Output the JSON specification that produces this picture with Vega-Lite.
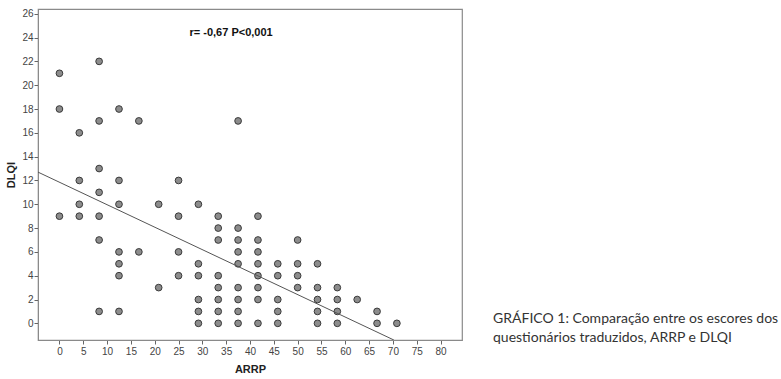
{
  "$schema": "https://vega.github.io/schema/vega-lite/v6.json",
  "width": 424,
  "height": 331,
  "autosize": {"type": "none"},
  "padding": {"left": 38, "top": 9, "right": 319, "bottom": 39},
  "background": "white",
  "config": {
    "view": {"stroke": "#8a8a8a", "strokeWidth": 1.2},
    "axis": {
      "grid": false,
      "labelFont": "Liberation Sans",
      "labelFontSize": 10,
      "labelColor": "#444444",
      "tickColor": "#666666",
      "tickSize": 4,
      "domainColor": "#8a8a8a",
      "titleFont": "Liberation Sans",
      "titleFontWeight": "bold",
      "titleFontSize": 11,
      "titleColor": "#222222"
    }
  },
  "title": {
    "text": ["GRÁFICO 1: Comparação entre os escores dos", "questionários traduzidos, ARRP e DLQI"],
    "orient": "bottom",
    "anchor": "end",
    "frame": "group",
    "align": "left",
    "baseline": "top",
    "dx": 31,
    "dy": -66,
    "font": "Lato",
    "fontSize": 14,
    "fontWeight": "normal",
    "color": "#333333",
    "lineHeight": 19
  },
  "layer": [
    {
      "data": {
        "values": [
          {"ARRP": 0, "DLQI": 21}, {"ARRP": 0, "DLQI": 18}, {"ARRP": 0, "DLQI": 9},
          {"ARRP": 4.17, "DLQI": 16}, {"ARRP": 4.17, "DLQI": 12}, {"ARRP": 4.17, "DLQI": 10}, {"ARRP": 4.17, "DLQI": 9},
          {"ARRP": 8.33, "DLQI": 22}, {"ARRP": 8.33, "DLQI": 17}, {"ARRP": 8.33, "DLQI": 13}, {"ARRP": 8.33, "DLQI": 11}, {"ARRP": 8.33, "DLQI": 9}, {"ARRP": 8.33, "DLQI": 7}, {"ARRP": 8.33, "DLQI": 1},
          {"ARRP": 12.5, "DLQI": 18}, {"ARRP": 12.5, "DLQI": 12}, {"ARRP": 12.5, "DLQI": 10}, {"ARRP": 12.5, "DLQI": 6}, {"ARRP": 12.5, "DLQI": 5}, {"ARRP": 12.5, "DLQI": 4}, {"ARRP": 12.5, "DLQI": 1},
          {"ARRP": 16.67, "DLQI": 17}, {"ARRP": 16.67, "DLQI": 6},
          {"ARRP": 20.83, "DLQI": 10}, {"ARRP": 20.83, "DLQI": 3},
          {"ARRP": 25, "DLQI": 12}, {"ARRP": 25, "DLQI": 9}, {"ARRP": 25, "DLQI": 6}, {"ARRP": 25, "DLQI": 4},
          {"ARRP": 29.17, "DLQI": 10}, {"ARRP": 29.17, "DLQI": 5}, {"ARRP": 29.17, "DLQI": 4}, {"ARRP": 29.17, "DLQI": 2}, {"ARRP": 29.17, "DLQI": 1}, {"ARRP": 29.17, "DLQI": 0},
          {"ARRP": 33.33, "DLQI": 9}, {"ARRP": 33.33, "DLQI": 8}, {"ARRP": 33.33, "DLQI": 7}, {"ARRP": 33.33, "DLQI": 4}, {"ARRP": 33.33, "DLQI": 3}, {"ARRP": 33.33, "DLQI": 2}, {"ARRP": 33.33, "DLQI": 1}, {"ARRP": 33.33, "DLQI": 0},
          {"ARRP": 37.5, "DLQI": 17}, {"ARRP": 37.5, "DLQI": 8}, {"ARRP": 37.5, "DLQI": 7}, {"ARRP": 37.5, "DLQI": 6}, {"ARRP": 37.5, "DLQI": 5}, {"ARRP": 37.5, "DLQI": 3}, {"ARRP": 37.5, "DLQI": 2}, {"ARRP": 37.5, "DLQI": 1}, {"ARRP": 37.5, "DLQI": 0},
          {"ARRP": 41.67, "DLQI": 9}, {"ARRP": 41.67, "DLQI": 7}, {"ARRP": 41.67, "DLQI": 6}, {"ARRP": 41.67, "DLQI": 5}, {"ARRP": 41.67, "DLQI": 4}, {"ARRP": 41.67, "DLQI": 3}, {"ARRP": 41.67, "DLQI": 2}, {"ARRP": 41.67, "DLQI": 0},
          {"ARRP": 45.83, "DLQI": 5}, {"ARRP": 45.83, "DLQI": 4}, {"ARRP": 45.83, "DLQI": 2}, {"ARRP": 45.83, "DLQI": 1}, {"ARRP": 45.83, "DLQI": 0},
          {"ARRP": 50, "DLQI": 7}, {"ARRP": 50, "DLQI": 5}, {"ARRP": 50, "DLQI": 4}, {"ARRP": 50, "DLQI": 3},
          {"ARRP": 54.17, "DLQI": 5}, {"ARRP": 54.17, "DLQI": 3}, {"ARRP": 54.17, "DLQI": 2}, {"ARRP": 54.17, "DLQI": 1}, {"ARRP": 54.17, "DLQI": 0},
          {"ARRP": 58.33, "DLQI": 3}, {"ARRP": 58.33, "DLQI": 2}, {"ARRP": 58.33, "DLQI": 1}, {"ARRP": 58.33, "DLQI": 0},
          {"ARRP": 62.5, "DLQI": 2},
          {"ARRP": 66.67, "DLQI": 1}, {"ARRP": 66.67, "DLQI": 0},
          {"ARRP": 70.83, "DLQI": 0}
        ]
      },
      "mark": {"type": "point", "filled": false, "shape": "circle", "size": 45, "fill": "#8c8c8c", "fillOpacity": 1, "stroke": "#3a3a3a", "strokeWidth": 1, "opacity": 1},
      "encoding": {
        "x": {
          "field": "ARRP", "type": "quantitative",
          "scale": {"domain": [-4.5, 84.5], "nice": false, "zero": false},
          "axis": {"title": "ARRP", "values": [0, 5, 10, 15, 20, 25, 30, 35, 40, 45, 50, 55, 60, 65, 70, 75, 80], "tickCount": 40, "format": "d", "labelOverlap": false, "labelFlush": false, "labelBound": false, "labelPadding": 2, "titlePadding": 7}
        },
        "y": {
          "field": "DLQI", "type": "quantitative",
          "scale": {"domain": [-1.4, 26.4], "nice": false, "zero": false},
          "axis": {"title": "DLQI", "values": [0, 2, 4, 6, 8, 10, 12, 14, 16, 18, 20, 22, 24, 26], "tickCount": 40, "format": "d", "labelOverlap": false, "labelFlush": false, "labelBound": false, "labelPadding": 1, "titlePadding": 5}
        }
      }
    },
    {
      "data": {"values": [{"ARRP": -4.5, "DLQI": 12.7}, {"ARRP": 70.2, "DLQI": -1.4}]},
      "mark": {"type": "line", "color": "#555555", "strokeWidth": 1, "clip": true},
      "encoding": {
        "x": {"field": "ARRP", "type": "quantitative"},
        "y": {"field": "DLQI", "type": "quantitative"}
      }
    },
    {
      "data": {"values": [{"label": "r= -0,67 P<0,001", "ARRP": 27.3, "DLQI": 24.4}]},
      "mark": {"type": "text", "align": "left", "baseline": "middle", "font": "Liberation Sans", "fontWeight": "bold", "fontSize": 11, "color": "#111111"},
      "encoding": {
        "x": {"field": "ARRP", "type": "quantitative"},
        "y": {"field": "DLQI", "type": "quantitative"},
        "text": {"field": "label"}
      }
    }
  ]
}
